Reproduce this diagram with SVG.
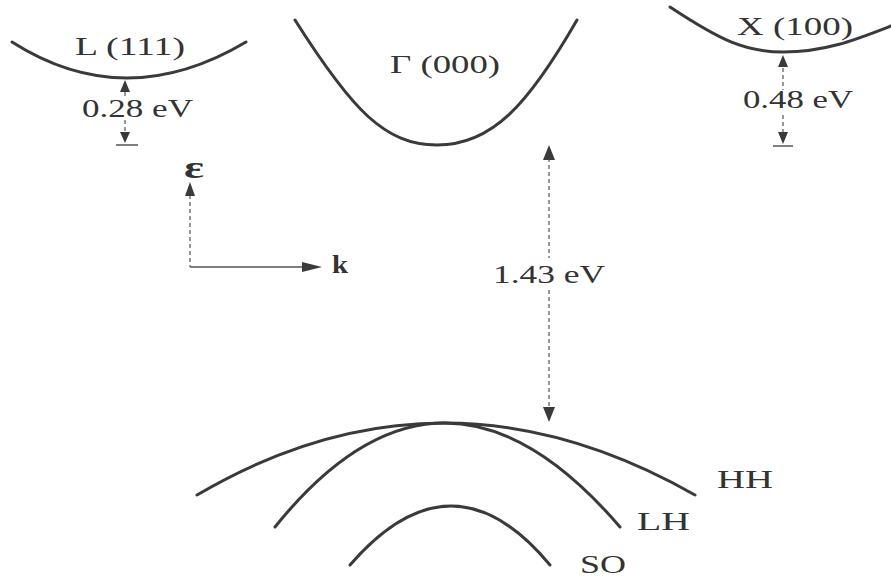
<svg xmlns="http://www.w3.org/2000/svg" width="891" height="580" viewBox="0 0 891 580">
<style>
.band{fill:none;stroke:#3a3a3a;stroke-width:3;stroke-linecap:round}
.dim{fill:none;stroke:#777;stroke-width:1.5;stroke-dasharray:4 3}
.solid{fill:none;stroke:#555;stroke-width:1.5}
.lbl{font-family:"Liberation Serif","Times New Roman",serif;font-size:25px;fill:#333}
.head{fill:#3a3a3a}
</style>
<rect width="891" height="580" fill="#fff"/>
<g id="band-L">
<path class="band" d="M12,42 Q125,114 246,42"/>
<text class="lbl" x="75" y="55" textLength="110" lengthAdjust="spacingAndGlyphs">L (111)</text>
</g>
<g id="band-Gamma">
<path class="band" d="M295,20 C352,110 385,145 437,145 C492,145 528,105 577,20"/>
<text class="lbl" x="390" y="73" textLength="110" lengthAdjust="spacingAndGlyphs">Γ (000)</text>
</g>
<g id="band-X">
<path class="band" d="M670,7 C720,40 745,52 783,52 C825,52 855,40 891,26"/>
<text class="lbl" x="737" y="35" textLength="116" lengthAdjust="spacingAndGlyphs">X (100)</text>
</g>
<g id="band-HH">
<path class="band" d="M197,495 Q442,351 695,495"/>
<text class="lbl" x="717" y="488" textLength="56" lengthAdjust="spacingAndGlyphs">HH</text>
</g>
<g id="band-LH">
<path class="band" d="M275,527 Q442,319 620,527"/>
<text class="lbl" x="637" y="530" textLength="53" lengthAdjust="spacingAndGlyphs">LH</text>
</g>
<g id="band-SO">
<path class="band" d="M350,565 Q452,447 550,565"/>
<text class="lbl" x="580" y="573" textLength="46" lengthAdjust="spacingAndGlyphs">SO</text>
</g>
<g id="axes">
<line class="dim" x1="190" y1="195" x2="190" y2="267"/>
<line class="solid" x1="190" y1="267" x2="302" y2="267"/>
<polygon class="head" points="190,182 185,196 195,196"/>
<polygon class="head" points="322,267 302,262 302,272"/>
<text class="lbl" x="184" y="178" style="font-size:32px;font-weight:bold" textLength="20" lengthAdjust="spacingAndGlyphs">ε</text>
<text class="lbl" x="332" y="273" style="font-weight:bold" textLength="16" lengthAdjust="spacingAndGlyphs">k</text>
</g>
<g id="connectors">
<line class="dim" x1="125" y1="92" x2="125" y2="98"/>
<line class="dim" x1="125" y1="120" x2="125" y2="133"/>
<polygon class="head" points="125,80 120,92 130,92"/>
<polygon class="head" points="125,143 120,132 130,132"/>
<line class="solid" x1="116" y1="145" x2="138" y2="145"/>
<line class="dim" x1="783" y1="68" x2="783" y2="90"/>
<line class="dim" x1="783" y1="115" x2="783" y2="133"/>
<polygon class="head" points="783,55 778,67 788,67"/>
<polygon class="head" points="783,144 778,132 788,132"/>
<line class="solid" x1="773" y1="146" x2="793" y2="146"/>
<line class="dim" x1="549" y1="158" x2="549" y2="258"/>
<line class="dim" x1="549" y1="290" x2="549" y2="408"/>
<polygon class="head" points="549,145 543,160 555,160"/>
<polygon class="head" points="549,422 543,407 555,407"/>
<text class="lbl" x="82" y="117" textLength="111" lengthAdjust="spacingAndGlyphs">0.28 eV</text>
<text class="lbl" x="743" y="108" textLength="110" lengthAdjust="spacingAndGlyphs">0.48 eV</text>
<text class="lbl" x="493" y="283" textLength="112" lengthAdjust="spacingAndGlyphs">1.43 eV</text>
</g>
</svg>
